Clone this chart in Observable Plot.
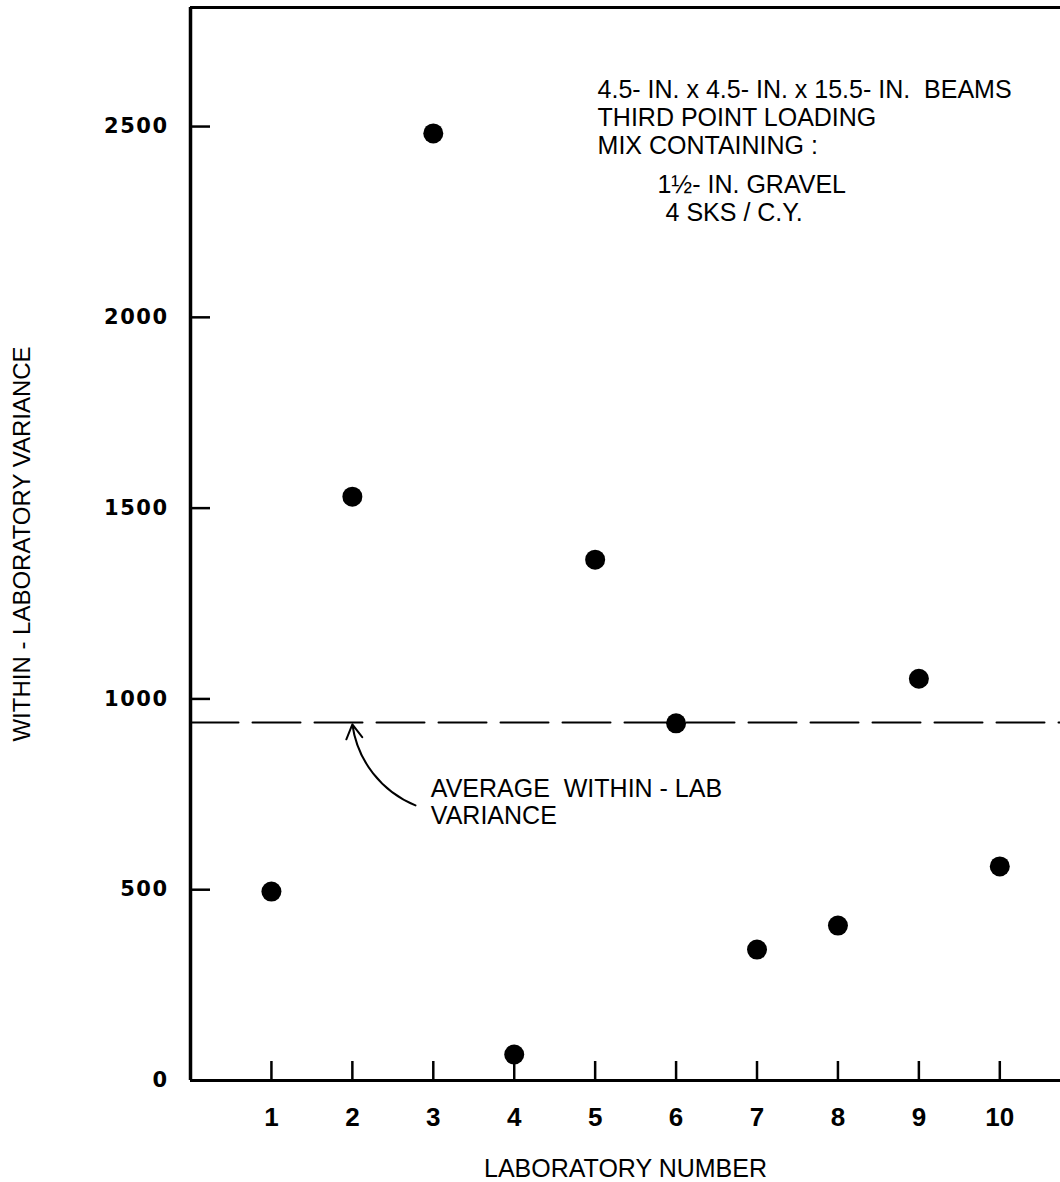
<!DOCTYPE html>
<html><head><meta charset="utf-8">
<script src="https://cdn.jsdelivr.net/npm/d3@7"></script>
<script src="https://cdn.jsdelivr.net/npm/@observablehq/plot@0.6"></script>
<style>
html,body{margin:0;padding:0;background:#fff;overflow:hidden;}
#chart svg{display:block;}
#chart svg text{white-space:pre;}
g[aria-label="y-axis tick label"] text{letter-spacing:1.5px;}
</style></head><body><div id="chart"></div>
<script>
// ---- data ----
const labs = [1, 2, 3, 4, 5, 6, 7, 8, 9, 10];
const variances = [495, 1530, 2482, 68, 1365, 936, 343, 406, 1053, 561];
const avgVariance = 938;
const xTicks = [1, 2, 3, 4, 5, 6, 7, 8, 9, 10];
const yTicks = [0, 500, 1000, 1500, 2000, 2500];
const xDomain = [0, 10.75];
const yDomain = [0, 2812];
const xLabel = "LABORATORY NUMBER";
const yLabel = "WITHIN - LABORATORY VARIANCE";
const noteLines = ["4.5- IN. x 4.5- IN. x 15.5- IN.  BEAMS", "THIRD POINT LOADING", "MIX CONTAINING :"];
const noteSub = ["1½- IN. GRAVEL", "4 SKS / C.Y."];
const noteSubX = [5.77, 5.87];
const noteSubY = [2372, 2298];
const noteAnchor = [5.03, 2626];
const avgNote = "AVERAGE  WITHIN - LAB\nVARIANCE";
const avgNoteAnchor = [2.97, 791];
const arrowFrom = [2.78, 721];
const arrowTo = [2.0, 933];

const points = labs.map((lab, i) => ({lab, v: variances[i]}));
const avgLine = xDomain.map(x => ({x, v: avgVariance}));
const font = "'Liberation Sans', Arial, sans-serif";
const W = 1060, H = 1182, mL = 190, mT = 7, mB = 102, mR = 0;
const plotW = W - mL - mR, plotH = H - mT - mB;

const chart = Plot.plot({
  width: W, height: H,
  marginLeft: mL, marginRight: mR, marginTop: mT, marginBottom: mB,
  x: {domain: xDomain},
  y: {domain: yDomain},
  style: {fontFamily: font, background: "white", color: "black"},
  marks: [
    // frame lines
    Plot.ruleX([xDomain[0]], {stroke: "black", strokeWidth: 3.5}),
    Plot.ruleY([yDomain[0]], {stroke: "black", strokeWidth: 3}),
    Plot.ruleY([yDomain[1]], {stroke: "black", strokeWidth: 3}),
    // inward ticks
    Plot.tickX(xTicks, {x: d => d, insetTop: plotH - 19, stroke: "black", strokeWidth: 2.5}),
    Plot.tickY(yTicks.filter(d => d > 0), {y: d => d, insetRight: plotW - 20, stroke: "black", strokeWidth: 2.5}),
    // tick labels
    Plot.axisX(xTicks, {tickSize: 0, tickPadding: 27, fontSize: 26, fontWeight: "bold", label: null, tickFormat: d => String(d)}),
    Plot.axisY(yTicks, {tickSize: 0, tickPadding: 22, fontSize: 21, fontWeight: "bold", fontFamily: "'DejaVu Sans', sans-serif", label: null, tickFormat: d => String(d)}),
    // axis titles
    Plot.axisX({ticks: [], tickSize: 0, label: xLabel, labelAnchor: "center", labelArrow: "none", labelOffset: 96, fontSize: 25}),
    Plot.axisY({ticks: [], tickSize: 0, label: yLabel, labelAnchor: "center", labelArrow: "none", labelOffset: 178, fontSize: 24}),
    // average line (drawn left to right so the dash pattern starts at the axis)
    Plot.line(avgLine, {x: "x", y: "v", stroke: "black", strokeWidth: 2, strokeDasharray: "48,14"}),
    // data points
    Plot.dot(points, {x: "lab", y: "v", r: 10, fill: "black", stroke: "none"}),
    // annotations
    Plot.text([noteLines.join("\n")], {x: noteAnchor[0], y: noteAnchor[1], textAnchor: "start", lineAnchor: "top", lineHeight: 1.12, fontSize: 25, fill: "black"}),
    Plot.text(noteSub, {x: (d, i) => noteSubX[i], y: (d, i) => noteSubY[i], textAnchor: "start", lineAnchor: "top", fontSize: 25, fill: "black"}),
    Plot.text([avgNote], {x: avgNoteAnchor[0], y: avgNoteAnchor[1], textAnchor: "start", lineAnchor: "top", lineHeight: 1.05, fontSize: 25, fill: "black"}),
    Plot.arrow([0], {x1: arrowFrom[0], y1: arrowFrom[1], x2: arrowTo[0], y2: arrowTo[1], bend: 30, headLength: 12, strokeWidth: 2, stroke: "black"})
  ]
});
document.getElementById("chart").appendChild(chart);
</script></body></html>
